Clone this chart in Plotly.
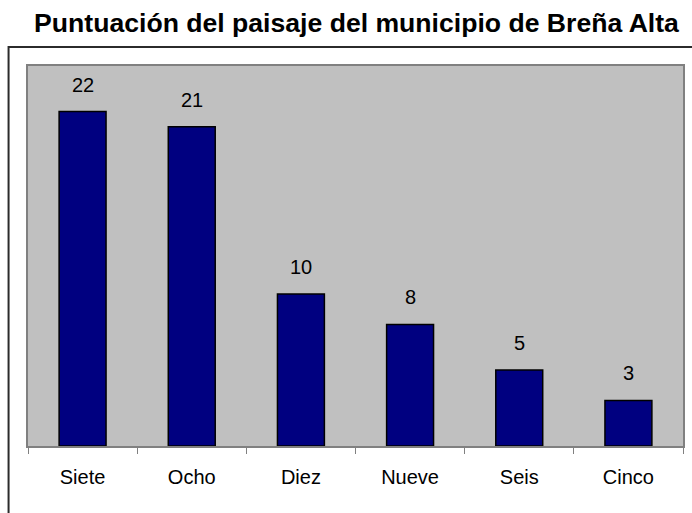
import plotly.graph_objects as go

# Landscape rating counts for Breña Alta
categories = ["Siete", "Ocho", "Diez", "Nueve", "Seis", "Cinco"]
counts = [22, 21, 10, 8, 5, 3]

title_text = "Puntuación del paisaje del municipio de Breña Alta"

FONT = "Liberation Sans, Arial, sans-serif"
W, H = 692, 513
ML, MR, MT, MB = 28, 7, 66, 67
PW = W - ML - MR
PH = H - MT - MB

fig = go.Figure(
    go.Bar(
        x=categories,
        y=counts,
        marker=dict(color="#000080", line=dict(color="#000000", width=1.5)),
        hoverinfo="x+y",
    )
)

# value labels floating above each bar
for c, v in zip(categories, counts):
    fig.add_annotation(
        x=c, y=v, text=str(v), showarrow=False,
        yanchor="middle", yshift=27,
        font=dict(family=FONT, size=20, color="#000000"),
    )

# outer chart-area frame, running off the right and bottom edges
fig.add_shape(
    type="rect", xref="paper", yref="paper",
    x0=(8.5 - ML) / PW, x1=1.2,
    y0=-0.4, y1=(H - MB - 47) / PH,
    line=dict(color="#2b2b2b", width=2),
    fillcolor="rgba(0,0,0,0)", layer="below",
)

fig.update_layout(
    width=W, height=H,
    margin=dict(l=ML, r=MR, t=MT, b=MB),
    paper_bgcolor="#ffffff",
    plot_bgcolor="#c0c0c0",
    bargap=0.57,
    showlegend=False,
    title=dict(
        text=title_text,
        font=dict(family=FONT, size=26.6, color="#000000", weight="bold"),
        xref="paper", x=(357.5 - ML) / PW, xanchor="center",
        yref="container", y=1 - 22.5 / H, yanchor="middle",
    ),
    xaxis=dict(
        type="category",
        showline=True, linecolor="#808080", linewidth=2, mirror=True,
        ticks="outside", tickson="boundaries", ticklen=6,
        tickcolor="#808080", tickwidth=1,
        tickfont=dict(family=FONT, size=20, color="#000000"),
        ticklabelstandoff=12,
        showgrid=False, zeroline=False,
    ),
    yaxis=dict(
        range=[0, 25],
        showline=True, linecolor="#808080", linewidth=2, mirror=True,
        showticklabels=False, ticks="", showgrid=False, zeroline=False,
    ),
)

fig.write_html("out.html")
